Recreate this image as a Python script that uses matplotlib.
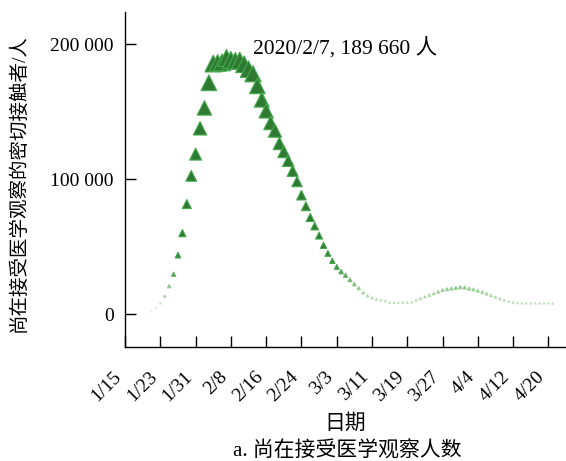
import numpy as np
import pandas as pd
import matplotlib

matplotlib.use("Agg")
import matplotlib.pyplot as plt
from matplotlib.colors import LinearSegmentedColormap

plt.rcParams['font.family'] = ['Liberation Serif', 'Noto Sans CJK SC']

# daily counts of close contacts still under medical observation
start_date = "2020-01-20"
observed = [
    900, 2200, 4800, 8100, 13300, 20700, 29600, 43700, 60000, 81500,          # 1/20-1/29
    102400, 118500, 137600, 152700, 171300, 185500, 186000, 186400, 189660,  # 1/30-2/7
    188200, 187500, 187700, 185000, 181400, 178000, 169000, 158800, 150500,  # 2/8-2/16
    141600, 135900, 126400, 120300, 113600, 106100, 98200, 88100, 79900,     # 2/17-2/25
    71600, 65200, 58200, 51000, 45000, 39500, 35000, 31500, 28800, 25500,    # 2/26-3/6
    22200, 19300, 16000, 13600, 12100, 11100, 10400, 9900,                   # 3/7-3/14
    8700, 8700, 8500, 8600, 8700, 9000, 10400, 11600, 12800, 14100,          # 3/15-3/24
    15300, 16500, 17800, 18500, 19000, 19500, 20000, 19800, 19000, 18300,    # 3/25-4/3
    17400, 16300, 15100, 13900, 12700, 11400, 10300, 9400, 8700, 8200,      # 4/4-4/13
    8150, 8150, 8100, 8100, 8100, 8100, 8100, 8000,                          # 4/14-4/21
]
dates = pd.date_range(start_date, periods=len(observed), freq="D")
tick_dates = pd.date_range("2020-01-15", "2020-04-20", freq="8D")

peak_idx = int(np.argmax(observed))
peak_date = dates[peak_idx]
peak_val = observed[peak_idx]

fig = plt.figure(figsize=(5.66, 4.61), dpi=100)
ax = fig.add_axes([0.221, 0.247, 0.779, 0.727])

# marker size and shade both grow with the count
vals = np.array(observed, dtype=float)
frac = vals / vals.max()
face_cmap = LinearSegmentedColormap.from_list("obs", ["#eaf2e8", "#9bcc98", "#3b8d41", "#2e7a33"])
edge_cmap = LinearSegmentedColormap.from_list("obs_edge", ["#eaf2e8", "#a8d4a4", "#4aa64f", "#46a84c"])
shade = np.clip(frac / 0.3, 0, 1) ** 0.85
ax.scatter(dates, vals, s=150 * frac ** 1.5, marker="^", c=face_cmap(shade),
           edgecolors=edge_cmap(shade), linewidths=0.8, zorder=3)

ax.annotate(f"{peak_date.year}/{peak_date.month}/{peak_date.day}, 189 660 人",
            xy=(peak_date, peak_val), xytext=(19, 7), textcoords="offset points",
            ha="left", va="center", fontsize=15.5)

ax.set_xlim(pd.Timestamp("2020-01-15"), pd.Timestamp("2020-01-15") + pd.Timedelta(days=100))
ax.set_ylim(-24400, 223700)
ax.set_yticks([0, 100000, 200000])
ax.set_yticklabels(["0", "100 000", "200 000"])
ax.set_xticks(tick_dates)
ax.set_xticklabels([f"{d.month}/{d.day}" for d in tick_dates], rotation=45, ha="right")

ax.tick_params(axis="both", direction="in", length=8, width=1, labelsize=14)
ax.tick_params(axis="y", pad=8)
ax.tick_params(axis="x", pad=15)
for side in ("top", "right"):
    ax.spines[side].set_visible(False)
for side in ("left", "bottom"):
    ax.spines[side].set_linewidth(1)

ax.set_ylabel("尚在接受医学观察的密切接触者/人", fontsize=14)
ax.yaxis.set_label_coords(-0.222, 0.49)
ax.set_xlabel("日期", fontsize=15)
ax.xaxis.set_label_coords(0.5, -0.2)
fig.text(0.613, 0.02, "a. 尚在接受医学观察人数", ha="center", va="center", fontsize=15)

fig.savefig("out.png", dpi=100)
